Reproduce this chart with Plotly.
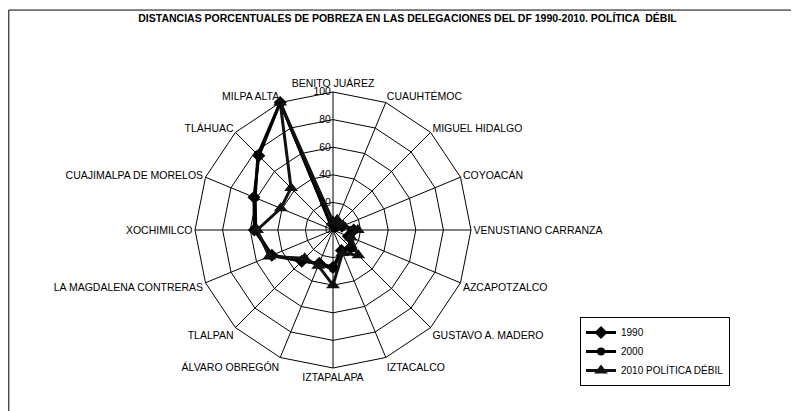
import plotly.graph_objects as go

categories = ["BENITO JUÁREZ", "CUAUHTÉMOC", "MIGUEL HIDALGO", "COYOACÁN",
              "VENUSTIANO CARRANZA", "AZCAPOTZALCO", "GUSTAVO A. MADERO", "IZTACALCO",
              "IZTAPALAPA", "ÁLVARO OBREGÓN", "TLALPAN", "LA MAGDALENA CONTRERAS",
              "XOCHIMILCO", "CUAJIMALPA DE MORELOS", "TLÁHUAC", "MILPA ALTA"]

v1990 = [0, 3, 4, 7, 15, 12, 18, 16, 27, 26, 32, 48, 57, 62, 76, 100]
v2000 = [0, 4, 5, 8, 16, 13, 19, 17, 28, 27, 31, 48, 56, 61, 77, 100]
v2010 = [6, 8, 6, 8, 18, 14, 26, 18, 40, 28, 29, 50, 55, 41, 43, 100]

series_names = ["1990", "2000", "2010 POLÍTICA DÉBIL"]
radial_ticks = [0, 20, 40, 60, 80, 100]

FONT = "Liberation Sans"

def closed(v):
    return v + [v[0]]

cats_closed = categories + [categories[0]]

fig = go.Figure()
fig.add_trace(go.Scatterpolar(r=closed(v1990), theta=cats_closed, name=series_names[0],
                              mode="lines+markers",
                              line=dict(color="black", width=3),
                              marker=dict(symbol="diamond", size=10, color="black")))
fig.add_trace(go.Scatterpolar(r=closed(v2000), theta=cats_closed, name=series_names[1],
                              mode="lines+markers",
                              line=dict(color="black", width=3),
                              marker=dict(symbol="circle", size=8, color="black")))
fig.add_trace(go.Scatterpolar(r=closed(v2010), theta=cats_closed, name=series_names[2],
                              mode="lines+markers",
                              line=dict(color="#111111", width=3),
                              marker=dict(symbol="triangle-up", size=12, color="#111111")))

cx, cy, rad = 325, 222, 138
fig.update_layout(
    width=799, height=411,
    margin=dict(l=0, r=0, t=0, b=0),
    paper_bgcolor="white",
    plot_bgcolor="white",
    font=dict(family=FONT, size=10, color="black"),
    title=dict(text="<b>DISTANCIAS PORCENTUALES DE POBREZA EN LAS DELEGACIONES DEL DF 1990-2010. POLÍTICA  DÉBIL</b>",
               x=0.5, xanchor="center", y=0.975, yanchor="middle",
               font=dict(family=FONT, size=10.5, color="black")),
    polar=dict(
        domain=dict(x=[(cx - rad) / 799, (cx + rad) / 799],
                    y=[(411 - cy - rad) / 411, (411 - cy + rad) / 411]),
        bgcolor="white",
        gridshape="linear",
        angularaxis=dict(direction="clockwise", rotation=90,
                         showline=True, linecolor="black", linewidth=1,
                         gridcolor="black", gridwidth=1,
                         ticks="", tickfont=dict(family=FONT, size=10.5, color="black")),
        radialaxis=dict(range=[0, 100], tickvals=radial_ticks, angle=90,
                        side="counterclockwise",
                        showline=False, gridcolor="black", gridwidth=1,
                        ticks="", tickfont=dict(family=FONT, size=10.5, color="black"),
                        tickangle=90),
    ),
    legend=dict(x=572/799, y=1-309/411, xanchor="left", yanchor="top",
                bordercolor="black", borderwidth=1, bgcolor="white",
                font=dict(family=FONT, size=10, color="black"),
                tracegroupgap=0, itemwidth=30),
    shapes=[dict(type="rect", xref="paper", yref="paper", x0=0.001, y0=0.003, x1=0.998, y1=0.995,
                 line=dict(color="black", width=1))],
)

fig.write_html("out.html")
